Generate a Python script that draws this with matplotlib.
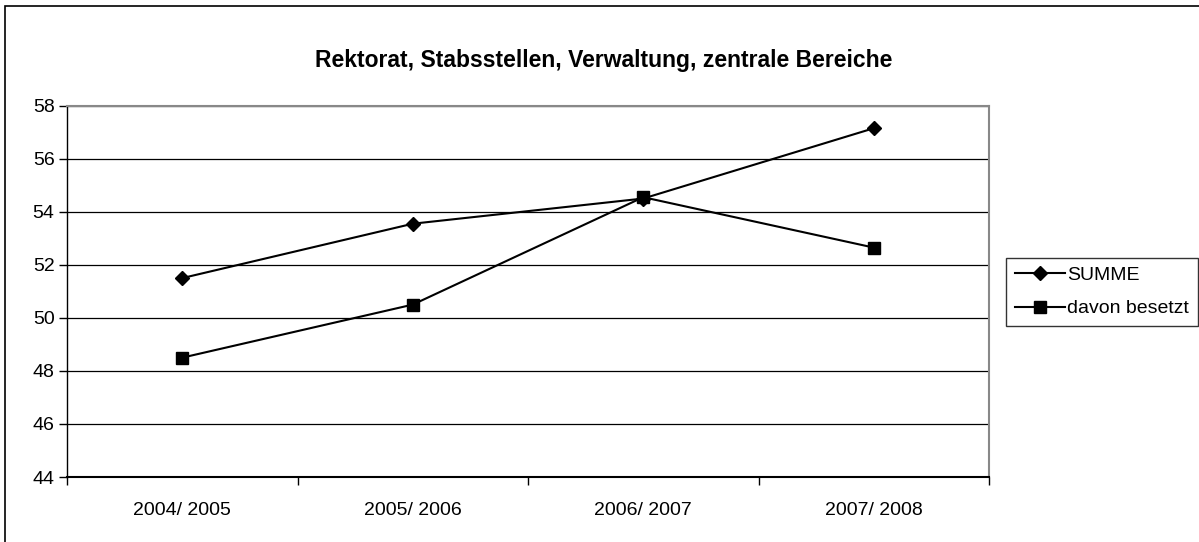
import matplotlib.pyplot as plt
from matplotlib.patches import Rectangle

# data
years = ['2004/ 2005', '2005/ 2006', '2006/ 2007', '2007/ 2008']
summe = [51.5, 53.55, 54.5, 57.15]
besetzt = [48.5, 50.5, 54.55, 52.65]
y_ticks = [44, 46, 48, 50, 52, 54, 56, 58]

plt.rcParams['font.family'] = ['Liberation Sans', 'DejaVu Sans']

fig = plt.figure(figsize=(11.99, 5.42), dpi=100)
ax = fig.add_axes([67 / 1199, 1 - 477 / 542, (989 - 67) / 1199, (477 - 105.7) / 542])

# outer chart border
fig.patches.append(Rectangle((5 / 1199, -0.05), 1.1, 1 - 6 / 542 + 0.05,
                             transform=fig.transFigure, fill=False,
                             edgecolor='black', linewidth=1.2))

x = list(range(len(years)))
ax.plot(x, summe, color='black', linewidth=1.5, marker='D', markersize=7.5,
        label='SUMME', zorder=3)
ax.plot(x, besetzt, color='black', linewidth=1.5, marker='s', markersize=8,
        label='davon besetzt', zorder=3)

ax.set_xlim(-0.5, len(years) - 0.5)
ax.set_ylim(44, 58)
ax.set_yticks(y_ticks)
ax.yaxis.grid(True, color='black', linewidth=0.9)
ax.set_axisbelow(True)

ax.set_xticks(x)
ax.set_xticklabels(years, fontsize=14)
ax.set_xticks([i - 0.5 for i in range(len(years) + 1)], minor=True)
ax.tick_params(axis='x', which='major', length=0, pad=18)
ax.tick_params(axis='x', which='minor', length=6, width=1, direction='out')
ax.tick_params(axis='y', length=6, width=1, labelsize=14, pad=3)

for side in ['top', 'right']:
    ax.spines[side].set_color('#888888')
    ax.spines[side].set_linewidth(1.5)
ax.spines['left'].set_linewidth(1)
ax.spines['bottom'].set_linewidth(1.5)

fig.text(604 / 1199, 1 - 60 / 542, 'Rektorat, Stabsstellen, Verwaltung, zentrale Bereiche',
         ha='center', va='center', fontsize=16.5, fontweight='bold')

leg = fig.legend(loc='center', bbox_to_anchor=(1102 / 1199, 1 - 292 / 542),
                 fontsize=14, frameon=True, fancybox=False, edgecolor='black',
                 handlelength=2.6, handletextpad=0.1, borderpad=0.45,
                 labelspacing=0.8, borderaxespad=0)
leg.get_frame().set_linewidth(1)

fig.savefig('out.png', dpi=100)
